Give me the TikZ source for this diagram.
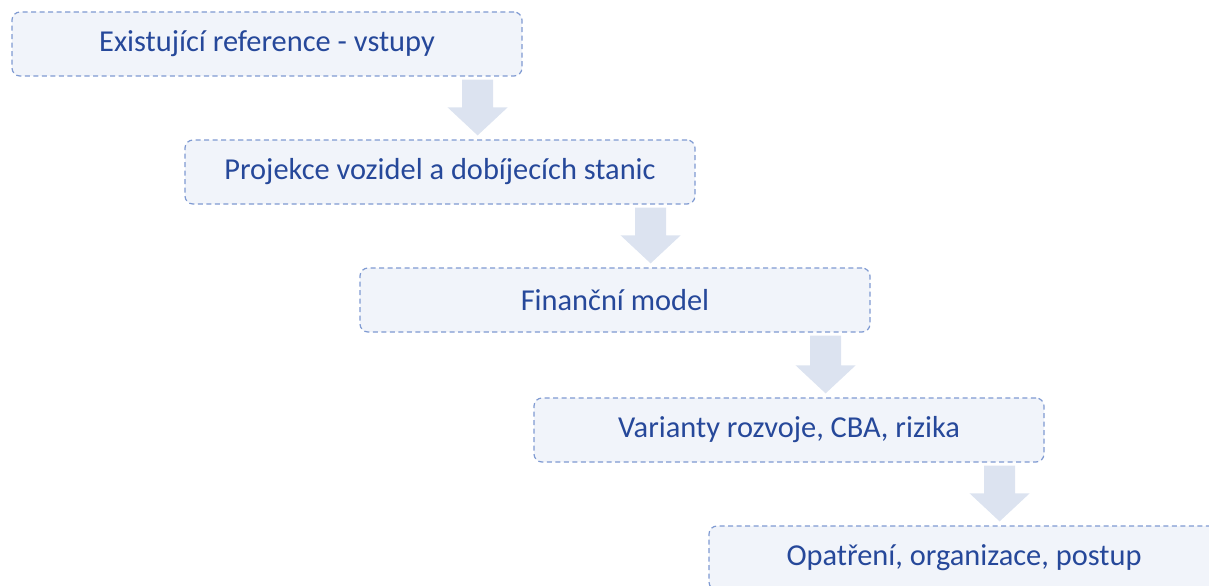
\documentclass[tikz,border=0pt]{standalone}
\usepackage{fontspec}
\setmainfont{Carlito}
\usetikzlibrary{positioning, calc}
\definecolor{stepblue}{HTML}{26489A}
\definecolor{stepfill}{HTML}{F1F4FA}
\definecolor{stepline}{HTML}{7F9AD2}
\definecolor{arrowfill}{HTML}{DCE3F0}
\tikzset{
    stepbox/.style = {rectangle, draw=stepline, fill=stepfill, line width=0.9pt,
                        dash pattern=on 3.8pt off 2.6pt, rounded corners=6pt,
                        minimum width=382.5pt, minimum height=48pt,
                        text=stepblue, font=\fontsize{22.8}{27}\selectfont, align=center}
}
% broad downward arrow from the top point #1 to the tip #2
\newcommand{\blockarrow}[2]{
    \fill[arrowfill] let \p1=(#1), \p2=(#2) in
        (\x1-11.6pt,\y1) -- (\x1+11.6pt,\y1) -- (\x1+11.6pt,\y2+21pt)
        -- (\x1+22.5pt,\y2+21pt) -- (\x2,\y2) -- (\x1-22.5pt,\y2+21pt)
        -- (\x1-11.6pt,\y2+21pt) -- cycle;
}

\begin{document}
\begin{tikzpicture}[x=0.75pt, y=-0.75pt]
		\useasboundingbox (0,0) rectangle (1209,585);
		\node (ref) [stepbox] at (267,44) {Existující reference - vstupy};
		\node (proj) [stepbox] at (440,172) {Projekce vozidel a dobíjecích stanic};
		\node (fin) [stepbox] at (615,300) {Finanční model};
		\node (var) [stepbox] at (789,430) {Varianty rozvoje, CBA, rizika};
		\node (opt) [stepbox] at (964,558) {Opatření, organizace, postup};
		% arrows sit near the right end of each box
		\coordinate (t1) at ($(ref.south east)+(-45,3)$);
		\coordinate (e1) at ($(t1 |- proj.north)+(0,-4)$);
		\coordinate (t2) at ($(proj.south east)+(-45,3)$);
		\coordinate (e2) at ($(t2 |- fin.north)+(0,-4)$);
		\coordinate (t3) at ($(fin.south east)+(-45,3)$);
		\coordinate (e3) at ($(t3 |- var.north)+(0,-4)$);
		\coordinate (t4) at ($(var.south east)+(-45,3)$);
		\coordinate (e4) at ($(t4 |- opt.north)+(0,-4)$);
		\blockarrow{t1}{e1}
		\blockarrow{t2}{e2}
		\blockarrow{t3}{e3}
		\blockarrow{t4}{e4}
	\end{tikzpicture}
\end{document}
